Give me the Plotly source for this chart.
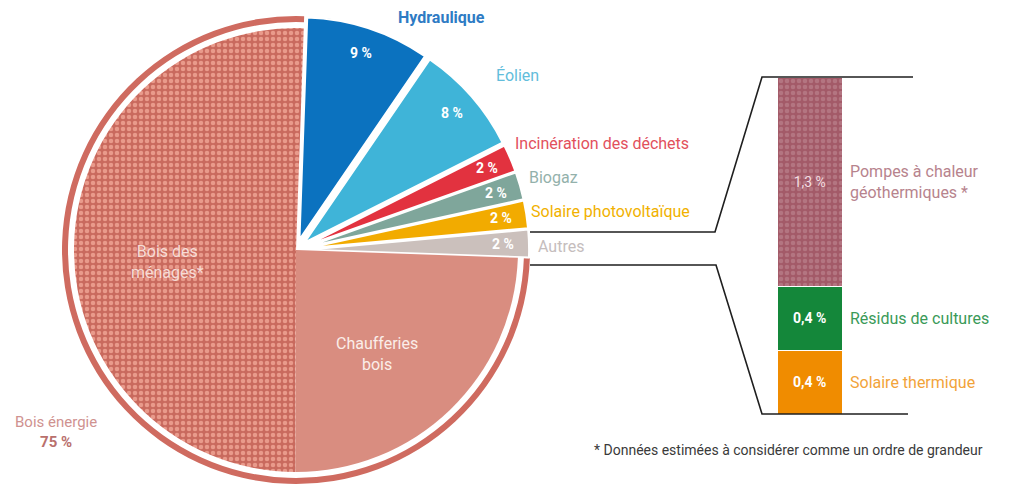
import math
import plotly.graph_objects as go

# ---- data -------------------------------------------------------------
slice_names = ["Hydraulique", "Éolien", "Incinération des déchets", "Biogaz",
               "Solaire photovoltaïque", "Autres", "Chaufferies bois", "Bois des ménages"]
slice_values = [9, 8, 2, 2, 2, 2, 24.5, 50.5]
slice_colors = ["#0b72bf", "#3fb4d8", "#e2323f", "#7fa69b", "#f2ab00", "#cbc0bc",
                "#d98d80", "#d3776a"]
label_colors = ["#2e7bc4", "#62bddb", "#e2505c", "#93b1ab", "#f1b100", "#c5bdbd"]
bois_total_label = "75 %"

autres_names = ["Solaire thermique", "Résidus de cultures", "Pompes à chaleur<br>géothermiques *"]
autres_values = [0.4, 0.4, 1.3]
autres_colors = ["#f08c00", "#14873a", "#a35a68"]
autres_label_colors = ["#f2a33a", "#3a9a58", "#b7838d"]

FONT = "Roboto, sans-serif"

# ---- geometry of the page (pixels) -------------------------------------
W, H = 1011, 486
CX, CY = 296, 250          # pie centre
R = 222                    # pie radius
PULL = 0.05
RING_OUT, RING_IN = 234, 228
ROT = 2                    # degrees clockwise from 12 o'clock


def px(x):
    return x / W


def py(y):
    return 1 - y / H


def domain(half):
    return dict(x=[px(CX - half), px(CX + half)], y=[py(CY + half), py(CY - half)])


def note(x, y, text, size, color, anchor="center", **kw):
    return dict(x=px(x), y=py(y), xref="paper", yref="paper", showarrow=False,
                xanchor=anchor, yanchor="middle", text=text,
                font=dict(family=FONT, size=size, color=color), **kw)


n_small = 6
pulls = [PULL] * n_small + [0, 0]
total = sum(slice_values)
bois_sum = sum(slice_values[n_small:])
others_sum = sum(slice_values[:n_small])

fig = go.Figure()

# thin ring wrapping the wood-energy part of the pie
fig.add_trace(go.Pie(
    values=[others_sum, bois_sum],
    marker=dict(colors=["rgba(0,0,0,0)", "#cf6b60"], line=dict(width=0)),
    sort=False, direction="clockwise", rotation=ROT,
    hole=RING_IN / RING_OUT, textinfo="none", hoverinfo="skip",
    showlegend=False, domain=domain(RING_OUT),
))

# main pie
fig.add_trace(go.Pie(
    labels=slice_names, values=slice_values,
    marker=dict(
        colors=slice_colors,
        line=dict(color="white", width=[2, 2, 2, 2, 2, 2, 0, 0]),
        pattern=dict(shape=[""] * 7 + ["."], fgcolor="#e99a8b", bgcolor="#c96a5e",
                     size=6, solidity=0.45),
    ),
    pull=pulls, sort=False, direction="clockwise", rotation=ROT,
    textinfo="none", hoverinfo="label+percent", showlegend=False,
    domain=domain(R * (1 + PULL)),
))


def slice_point(i, rfrac):
    c0 = sum(slice_values[:i]) / total
    c1 = c0 + slice_values[i] / total
    ang = math.radians(ROT + 360 * (c0 + c1) / 2)
    r = R * rfrac
    return CX + r * math.sin(ang), CY - r * math.cos(ang)


annotations = []
# percentage labels inside the small slices
for i in range(n_small):
    x, y = slice_point(i, 0.935)
    annotations.append(note(x, y, f"<b>{slice_values[i]:g} %</b>", 14, "white"))

# names of the small slices, outside the pie
outside = [
    (441, 18, "center"), (517, 76, "center"), (513, 143, "left"),
    (527, 177, "left"), (529, 211, "left"), (536, 247, "left"),
]
for i, (x, y, anchor) in enumerate(outside):
    txt = slice_names[i]
    if i == 0:
        txt = f"<b>{txt}</b>"
    annotations.append(note(x, y, txt, 16, label_colors[i], anchor))

# labels of the two wood slices
x, y = slice_point(7, 0.58)
annotations.append(note(x, y, "Bois des<br>ménages*", 16, "#f6dcd6", yshift=-14))
x, y = slice_point(6, 0.6)
annotations.append(note(x, y, "Chaufferies<br>bois", 16, "#fbeee9", xshift=-11, yshift=-8))

annotations.append(note(
    56, 432,
    f"<span style='color:#cf9290'>Bois énergie</span><br><b>{bois_total_label}</b>",
    15, "#b9706d"))

# breakdown of "Autres" as a stacked bar
base = 0
for name, v, c, lc in zip(autres_names, autres_values, autres_colors, autres_label_colors):
    is_pac = name.startswith("Pompes")
    fig.add_trace(go.Bar(
        x=[0], y=[v], width=1, xaxis="x", yaxis="y",
        marker=dict(color=c, line=dict(color="white", width=1.5),
                    pattern=dict(shape="." if is_pac else "", fgcolor="#c4909a",
                                 bgcolor=c, size=6, solidity=0.45)),
        text=[f"{v:.1f}".replace(".", ",") + " %"], textposition="inside",
        insidetextanchor="middle",
        textfont=dict(family=FONT, size=14, color="#f3dde1" if is_pac else "white"),
        texttemplate="%{text}" if is_pac else "<b>%{text}</b>",
        showlegend=False, hoverinfo="skip",
    ))
    annotations.append(dict(
        x=0.5, y=base + v / 2, xref="x", yref="y", xanchor="left", yanchor="middle",
        xshift=5, showarrow=False, align="left", text=name,
        font=dict(family=FONT, size=16, color=lc),
    ))
    base += v

annotations.append(note(985, 450, "* Données estimées à considérer comme un ordre de grandeur",
                        14, "#3a3a3a", "right"))

# connector from the "Autres" slice to the bar
line = dict(color="#1f1f1f", width=1.6)
paths = [
    [(530, 232), (715, 232), (762, 77), (913, 77)],
    [(530, 265), (716, 265), (762, 414), (908, 414)],
]
shapes = []
for pts in paths:
    d = "M " + " L ".join(f"{px(x):.5f},{py(y):.5f}" for x, y in pts)
    shapes.append(dict(type="path", path=d, xref="paper", yref="paper", line=line))

fig.update_layout(
    width=W, height=H, margin=dict(l=0, r=0, t=0, b=0),
    paper_bgcolor="white", plot_bgcolor="rgba(0,0,0,0)",
    barmode="stack", bargap=0,
    xaxis=dict(domain=[px(778), px(843)], range=[-0.5, 0.5], visible=False, fixedrange=True),
    yaxis=dict(domain=[py(415), py(78)], range=[0, sum(autres_values)], visible=False,
               fixedrange=True),
    annotations=annotations, shapes=shapes,
    font=dict(family=FONT),
)

fig.write_html("out.html")
